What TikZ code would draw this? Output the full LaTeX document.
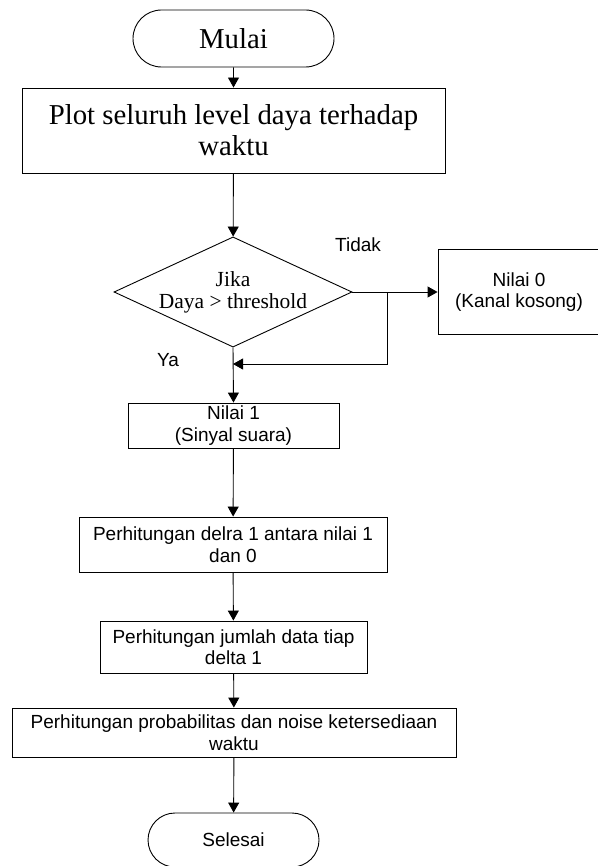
\documentclass[tikz,border=0pt]{standalone}
\usepackage{fontspec}
\setmainfont{Liberation Serif}
\newfontfamily\arialfont{Liberation Sans}
\usetikzlibrary{
  shapes.geometric
  , shapes.misc
  % for arrow tips
  , arrows.meta
}

\tikzset{
  terminal/.style={rounded rectangle, draw=black, inner sep=0pt},
  proses/.style={rectangle, draw=black, inner sep=0pt, align=center},
  keputusan/.style={diamond, draw=black, inner sep=0pt, aspect=2.16, align=center},
  panah/.style={-{Triangle[length=10pt,width=11pt]}},
  teksarial/.style={font={\arialfont\fontsize{19}{21.5}\selectfont}},
  teksbesar/.style={font={\fontsize{28.8}{31}\selectfont}},
}

\begin{document}
\begin{tikzpicture}[x=1pt,y=-1pt,line width=0.9pt]
      \useasboundingbox (0,0) rectangle (597,866);

      \node [terminal, teksbesar,
        minimum width = 201pt,
        minimum height = 57pt] (mulai) at (233.5,38.5) {Mulai};

      \node [proses, teksbesar,
        minimum width = 423pt,
        minimum height = 85pt] (plot) at (233.5,130.5)
        {Plot seluruh level daya terhadap\\waktu};

      \node [keputusan,
        font={\fontsize{21.5}{22}\selectfont},
        minimum width = 238pt,
        minimum height = 110pt] (cek) at (233,292)
        {Jika\\Daya > threshold};

      \node [proses, teksarial,
        minimum width = 162pt,
        minimum height = 85pt] (nol) at (519,292)
        {Nilai 0\\(Kanal kosong)};

      \node [proses, teksarial,
        minimum width = 211pt,
        minimum height = 45pt] (satu) at (233.5,425.5)
        {Nilai 1\\(Sinyal suara)};

      \node [proses, teksarial,
        minimum width = 308pt,
        minimum height = 55pt] (delta) at (233,544.5)
        {Perhitungan delra 1 antara nilai 1\\dan 0};

      \node [proses, teksarial,
        minimum width = 267pt,
        minimum height = 52pt] (jumlah) at (233.5,647)
        {Perhitungan jumlah data tiap\\delta 1};

      \node [proses, teksarial,
        minimum width = 444pt,
        minimum height = 49pt] (prob) at (234,732.5)
        {Perhitungan probabilitas dan noise ketersediaan\\waktu};

      \node [terminal, teksarial,
        minimum width = 171pt,
        minimum height = 54pt] (selesai) at (233.5,840) {Selesai};

      \node [teksarial] (tidak) at (358,245) {Tidak};
      \node [teksarial] (ya) at (168,360) {Ya};

      \draw [panah] (mulai) -- (plot);
      \draw [panah] (plot) -- (cek);
      \draw [panah] (cek.east) -- (nol.west);
      \draw [panah] (cek.south) -- (satu.north);
      \draw [panah] (satu) -- (delta);
      \draw [panah] (delta) -- (jumlah);
      \draw [panah] (jumlah) -- (prob);
      \draw [panah] (prob) -- (selesai);

      \coordinate (cabang) at (387,292);
      \coordinate (belok) at (387,364);
      \coordinate (temu) at (233,364);
      \draw [panah] (cabang) -- (belok) -- (temu);

    \end{tikzpicture}
\end{document}
